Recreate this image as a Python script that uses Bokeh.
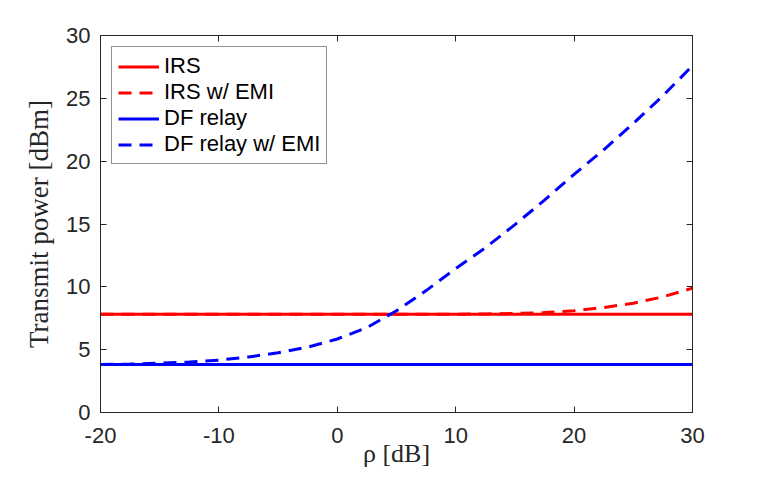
from bokeh.plotting import figure
from bokeh.models import LinearAxis, FixedTicker, Legend, LegendItem, Range1d
from bokeh.embed import file_html
from bokeh.resources import INLINE

rho_db = [-20, -17.5, -15, -12.5, -10, -7.5, -5, -2.5, 0, 2.5, 5, 7.5, 10,
          12.5, 15, 17.5, 20, 22.5, 25, 27.5, 30]
irs = [7.82] * len(rho_db)
irs_emi = [7.82, 7.82, 7.82, 7.82, 7.82, 7.82, 7.82, 7.82, 7.82, 7.82, 7.82, 7.82, 7.82,
           7.84, 7.88, 7.95, 8.1, 8.35, 8.7, 9.2, 9.9]
df = [3.82] * len(rho_db)
df_emi = [3.82, 3.86, 3.92, 4.02, 4.17, 4.42, 4.75, 5.2, 5.85, 6.75, 8.1, 9.7, 11.45,
          13.1, 14.95, 16.9, 18.95, 20.9, 23.0, 25.2, 27.6]

x_ticks = [-20, -10, 0, 10, 20, 30]
x_tick_labels = ["-20", "-10", "0", "10", "20", "30"]
y_ticks = [0, 5, 10, 15, 20, 25, 30]
x_label = "ρ [dB]"
y_label = "Transmit power [dBm]"

AX = "#262626"
TICK_FONT = "Liberation Sans"
LABEL_FONT = "Liberation Serif"

p = figure(width=748, height=470, output_backend="svg", toolbar_location=None,
           x_range=Range1d(-20, 30), y_range=Range1d(0, 30),
           min_border_left=100, min_border_right=56, min_border_top=35, min_border_bottom=57)
p.grid.visible = False
p.background_fill_color = "white"
p.border_fill_color = "white"
p.outline_line_color = AX
p.outline_line_width = 1

r1 = p.line(rho_db, irs, line_color="#ff0000", line_width=3)
r2 = p.line(rho_db, irs_emi, line_color="#ff0000", line_width=3, line_dash="13 8")
r3 = p.line(rho_db, df, line_color="#0000ff", line_width=3)
r4 = p.line(rho_db, df_emi, line_color="#0000ff", line_width=3, line_dash="13 8")


def style_axis(ax, ticks, show_labels=True):
    ax.ticker = FixedTicker(ticks=ticks)
    ax.axis_line_color = AX
    ax.major_tick_line_color = AX
    ax.major_tick_in = 6
    ax.major_tick_out = 0
    ax.minor_tick_line_color = None
    if show_labels:
        ax.major_label_text_font = TICK_FONT
        ax.major_label_text_font_size = "22px"
        ax.major_label_text_color = AX
    else:
        ax.major_label_text_color = None
        ax.major_label_text_font_size = "1px"
        ax.major_label_standoff = 0


style_axis(p.xaxis[0], x_ticks)
style_axis(p.yaxis[0], y_ticks)
p.xaxis[0].major_label_overrides = {t: s for t, s in zip(x_ticks, x_tick_labels)}
p.xaxis[0].major_label_standoff = 15
p.yaxis[0].major_label_standoff = 10

p.xaxis[0].axis_label = x_label
p.yaxis[0].axis_label = y_label
for ax, size in ((p.xaxis[0], "26px"), (p.yaxis[0], "27px")):
    ax.axis_label_text_font = LABEL_FONT
    ax.axis_label_text_font_style = "normal"
    ax.axis_label_text_font_size = size
    ax.axis_label_text_color = AX
p.xaxis[0].axis_label_standoff = -7
p.yaxis[0].axis_label_standoff = 9

top = LinearAxis()
right = LinearAxis()
style_axis(top, x_ticks, show_labels=False)
style_axis(right, y_ticks, show_labels=False)
p.add_layout(top, "above")
p.add_layout(right, "right")

legend = Legend(items=[
    LegendItem(label="IRS", renderers=[r1]),
    LegendItem(label="IRS w/ EMI", renderers=[r2]),
    LegendItem(label="DF relay", renderers=[r3]),
    LegendItem(label="DF relay w/ EMI", renderers=[r4]),
], location="top_left")
legend.margin = 11
legend.padding = 6
legend.spacing = 0
legend.glyph_width = 41
legend.glyph_height = 25
legend.label_height = 25
legend.label_standoff = 5
legend.label_text_font = TICK_FONT
legend.label_text_font_size = "22px"
legend.label_text_color = "black"
legend.border_line_color = AX
legend.border_line_width = 1
legend.background_fill_color = "white"
legend.background_fill_alpha = 1
p.add_layout(legend, "center")

open("out.html", "w").write(file_html(p, INLINE))
